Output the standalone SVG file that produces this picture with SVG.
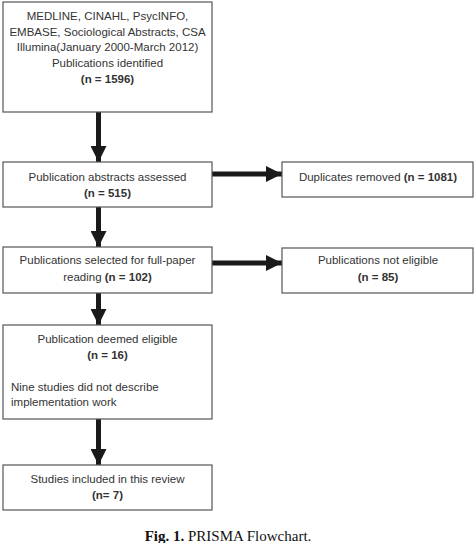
<svg xmlns="http://www.w3.org/2000/svg" width="474" height="543" viewBox="0 0 474 543">
<style>
.box{fill:#fff;stroke:#555;stroke-width:1.2}
.t{font-family:"Liberation Sans",Arial,sans-serif;font-size:11.5px;fill:#333;text-anchor:middle}
.l{text-anchor:start}
.b{font-weight:bold}
.arr{stroke:#1a1a1a;stroke-width:5;fill:none}
.cap{font-family:"Liberation Serif","Times New Roman",serif;font-size:15px;fill:#111;text-anchor:middle}
</style>
<defs>
<marker id="ah" markerUnits="userSpaceOnUse" markerWidth="16" markerHeight="16" viewBox="0 0 16 16" refX="16" refY="8" orient="auto">
<path d="M0,0 L16,8 L0,16 Z" fill="#1a1a1a"/>
</marker>
</defs>
<rect width="474" height="543" fill="#fff"/>
<g id="connectors">
<line class="arr" x1="98.5" y1="112" x2="98.5" y2="162" marker-end="url(#ah)"/>
<line class="arr" x1="212" y1="174" x2="282" y2="174" marker-end="url(#ah)"/>
<line class="arr" x1="98.5" y1="207" x2="98.5" y2="247" marker-end="url(#ah)"/>
<line class="arr" x1="212" y1="263" x2="282" y2="263" marker-end="url(#ah)"/>
<line class="arr" x1="98.5" y1="293" x2="98.5" y2="325" marker-end="url(#ah)"/>
<line class="arr" x1="98.5" y1="419" x2="98.5" y2="465" marker-end="url(#ah)"/>
</g>
<g id="n1">
<rect class="box" x="3" y="2" width="209" height="110"/>
<text class="t" x="107.5" y="20">MEDLINE, CINAHL, PsycINFO,</text>
<text class="t" x="107.5" y="36">EMBASE, Sociological Abstracts, CSA</text>
<text class="t" x="107.5" y="51">Illumina(January 2000-March 2012)</text>
<text class="t" x="107.5" y="67">Publications identified</text>
<text class="t b" x="107.5" y="83">(n = 1596)</text>
</g>
<g id="n2">
<rect class="box" x="3" y="162" width="209" height="45"/>
<text class="t" x="107.5" y="181">Publication abstracts assessed</text>
<text class="t b" x="107.5" y="197">(n = 515)</text>
</g>
<g id="n3">
<rect class="box" x="282" y="162" width="191" height="35"/>
<text class="t" x="378" y="181">Duplicates removed <tspan class="b">(n = 1081)</tspan></text>
</g>
<g id="n4">
<rect class="box" x="3" y="247" width="209" height="46"/>
<text class="t" x="107.5" y="264">Publications selected for full-paper</text>
<text class="t" x="107.5" y="281">reading <tspan class="b">(n = 102)</tspan></text>
</g>
<g id="n5">
<rect class="box" x="282" y="248" width="191" height="45"/>
<text class="t" x="378" y="264">Publications not eligible</text>
<text class="t b" x="378" y="281">(n = 85)</text>
</g>
<g id="n6">
<rect class="box" x="3" y="325" width="209" height="94"/>
<text class="t" x="107.5" y="343">Publication deemed eligible</text>
<text class="t b" x="107.5" y="359">(n = 16)</text>
<text class="t l" x="11" y="391">Nine studies did not describe</text>
<text class="t l" x="11" y="406">implementation work</text>
</g>
<g id="n7">
<rect class="box" x="3" y="465" width="209" height="45"/>
<text class="t" x="107.5" y="483">Studies included in this review</text>
<text class="t b" x="107.5" y="499">(n= 7)</text>
</g>
<g id="caption">
<text class="cap" x="228" y="541"><tspan font-weight="bold">Fig. 1.</tspan> PRISMA Flowchart.</text>
</g>
</svg>
